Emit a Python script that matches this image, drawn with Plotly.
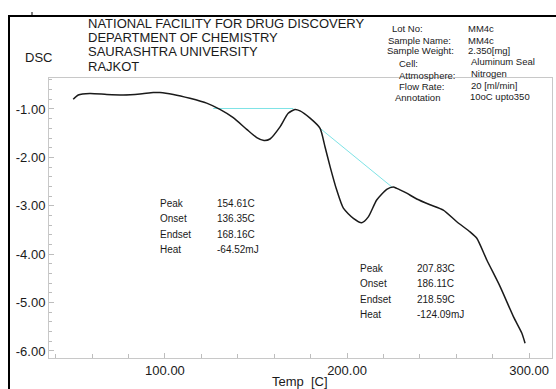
import plotly.graph_objects as go

# ---- data ----
temp = [49.6, 52.4, 58.8, 68.0, 77.1, 86.3, 93.6, 97.3, 104.6, 113.7, 122.9, 130.2,
        137.5, 144.9, 150.4, 154.4, 157.7, 163.2, 167.7, 171.4, 174.2, 179.7, 185.2,
        187.9, 190.7, 194.3, 198.0, 203.5, 208.1, 211.7, 216.3, 221.8, 225.4, 227.3,
        229.1, 232.8, 238.3, 245.6, 252.9, 260.3, 267.6, 271.3, 276.8, 284.1, 291.4,
        296.0, 297.8]
dsc = [-0.80, -0.71, -0.68, -0.70, -0.71, -0.69, -0.66, -0.66, -0.70, -0.78, -0.88, -1.01,
       -1.18, -1.42, -1.59, -1.65, -1.62, -1.37, -1.09, -1.01, -1.04, -1.19, -1.40,
       -1.78, -2.19, -2.67, -3.05, -3.26, -3.35, -3.23, -2.88, -2.66, -2.61, -2.64,
       -2.67, -2.74, -2.86, -2.98, -3.09, -3.33, -3.54, -3.67, -4.12, -4.67, -5.29,
       -5.63, -5.84]

base1_x = [126.5, 170.5]
base1_y = [-0.99, -0.99]
base2_x = [185.2, 224.6]
base2_y = [-1.40, -2.61]

xtick_vals = [100, 200, 300]
xtick_text = ["100.00", "200.00", "300.00"]
ytick_vals = [-1, -2, -3, -4, -5, -6]
ytick_text = ["-1.00", "-2.00", "-3.00", "-4.00", "-5.00", "-6.00"]

header_lines = ["NATIONAL FACILITY FOR DRUG DISCOVERY", "DEPARTMENT OF CHEMISTRY",
                "SAURASHTRA UNIVERSITY", "RAJKOT"]
info_labels = ["Lot No:", "Sample Name:", "Sample Weight:", "Cell:", "Attmosphere:",
               "Flow Rate:", "Annotation"]
info_values = ["MM4c", "MM4c", "2.350[mg]", "Aluminum Seal", "Nitrogen",
               "20 [ml/min]", "10oC upto350"]
peak1_labels = ["Peak", "Onset", "Endset", "Heat"]
peak1_values = ["154.61C", "136.35C", "168.16C", "-64.52mJ"]
peak2_labels = ["Peak", "Onset", "Endset", "Heat"]
peak2_values = ["207.83C", "186.11C", "218.59C", "-124.09mJ"]

# ---- layout geometry ----
W, H = 556, 389
L, R, T, B = 49, 4, 78, 31
PW, PH = W - L - R, H - T - B
FONT = "Liberation Sans, Arial, sans-serif"


def px(x):
    return (x - L) / PW


def py(y):
    return (H - B - y) / PH


fig = go.Figure()
fig.add_trace(go.Scatter(x=base1_x, y=base1_y, mode="lines",
                         line=dict(color="#7ee3e6", width=1), hoverinfo="skip"))
fig.add_trace(go.Scatter(x=base2_x, y=base2_y, mode="lines",
                         line=dict(color="#7ee3e6", width=1), hoverinfo="skip"))
fig.add_trace(go.Scatter(x=temp, y=dsc, mode="lines",
                         line=dict(color="#1a1a1a", width=1.5, shape="spline", smoothing=0.6)))

ann = []


def text(x, y, s, size, anchor="left"):
    ann.append(dict(x=px(x), y=py(y), xref="paper", yref="paper", text=s, showarrow=False,
                    xanchor=anchor, yanchor="middle",
                    font=dict(family=FONT, size=size, color="#1a1a1a")))


for i, s in enumerate(header_lines):
    text(86, 23 + i * 14.4, s, 13)
text(23, 57, "DSC", 13)

info_x = [390, 386, 385, 397, 397, 397, 393]
info_y = [29, 40, 51, 64, 75, 86, 97]
val_x = [466, 466, 466, 469, 469, 469, 468]
val_y = [29, 40, 51, 62, 73, 85, 96]
for lab, v, lx, ly, vx, vy in zip(info_labels, info_values, info_x, info_y, val_x, val_y):
    text(lx, ly, lab, 9.5)
    text(vx, vy, v, 9.5)

for i, (lab, v) in enumerate(zip(peak1_labels, peak1_values)):
    yy = 203 + i * 15.5
    text(158, yy, lab, 10)
    text(215, yy, v, 10)
for i, (lab, v) in enumerate(zip(peak2_labels, peak2_values)):
    yy = 268 + i * 15.5
    text(358, yy, lab, 10)
    text(415, yy, v, 10)

text(300, 381, "Temp  [C]", 13, anchor="center")

shapes = [
    dict(type="line", xref="paper", yref="paper", x0=px(8), x1=px(W + 2), y0=py(16), y1=py(16),
         line=dict(color="black", width=2)),
    dict(type="line", xref="paper", yref="paper", x0=px(9), x1=px(9), y0=py(15), y1=py(H + 2),
         line=dict(color="black", width=2)),
    dict(type="line", xref="paper", yref="paper", x0=px(32), x1=px(32), y0=py(12), y1=py(16),
         line=dict(color="black", width=1)),
]

axis_common = dict(showgrid=False, zeroline=False, showline=True, mirror=True,
                   linecolor="#c8c8c8", linewidth=1, ticks="inside", ticklen=5,
                   tickcolor="#bdbdbd", tickfont=dict(family=FONT, size=13, color="#1a1a1a"))

fig.update_layout(
    width=W, height=H, margin=dict(l=L, r=R, t=T, b=B),
    paper_bgcolor="white", plot_bgcolor="white", showlegend=False,
    annotations=ann, shapes=shapes,
    xaxis=dict(range=[36.3, 312.6], tickvals=xtick_vals, ticktext=xtick_text,
               minor=dict(dtick=20, tick0=0, ticks="inside", ticklen=4, tickcolor="#bdbdbd"),
               **axis_common),
    yaxis=dict(range=[-6.145, -0.36], tickvals=ytick_vals, ticktext=ytick_text,
               minor=dict(dtick=0.2, tick0=0, ticks="inside", ticklen=3, tickcolor="#bdbdbd"),
               **axis_common),
)

fig.write_html("out.html")
